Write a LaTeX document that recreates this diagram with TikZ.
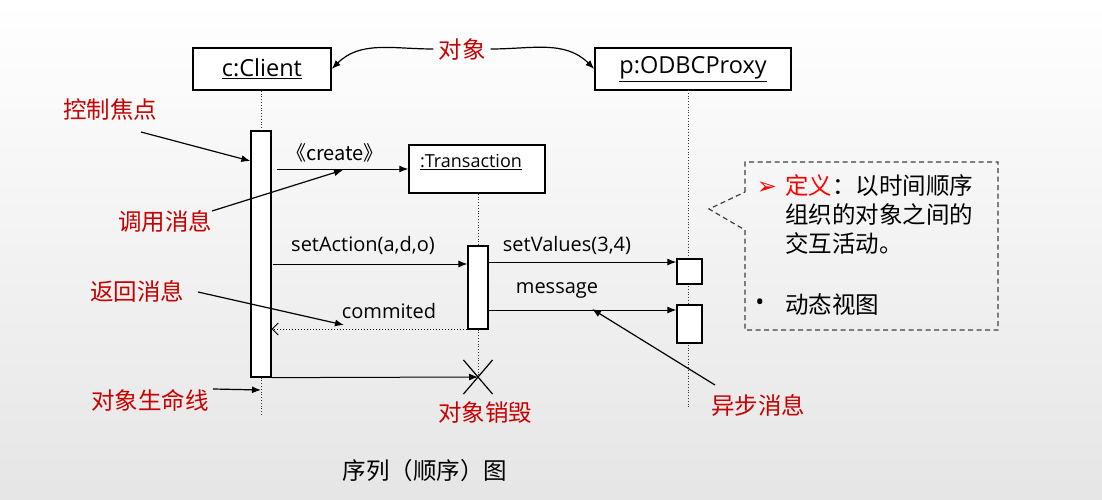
\documentclass[tikz,border=0pt]{standalone}
\usepackage{fontspec}
\setmainfont{Open Sans}
\newfontfamily\cjk{Noto Sans CJK SC}
\newfontfamily\dejavu{DejaVu Sans}
\usetikzlibrary{arrows.meta,shapes.misc}
\definecolor{annred}{RGB}{200,0,0}
\definecolor{defred}{RGB}{255,0,0}
\definecolor{cbox}{RGB}{64,64,64}
\begin{document}
\begin{tikzpicture}[x=1pt,y=-1pt,
  objbox/.style={draw=black,line width=1.5pt,fill=white,inner sep=0pt,font=\fontsize{23.5}{27}\selectfont},
  actbox/.style={draw=black,line width=1.3pt,fill=white,inner sep=0pt},
  life/.style={draw=black!80,line width=0.8pt,dotted},
  msg/.style={draw=black,line width=1pt,-{Latex[length=9pt,width=7pt]}},
  retmsg/.style={draw=black,line width=1pt,dotted,-{Straight Barb[length=6pt,width=12pt,line width=0.9pt]}},
  ann/.style={draw=black,line width=1.2pt,-{Latex[length=9pt,width=7pt]}},
  msglbl/.style={inner sep=1pt,font=\fontsize{20}{23}\selectfont},
  annlbl/.style={inner sep=1pt,text=annred,font=\cjk\fontsize{23.5}{27}\selectfont},
  cjktext/.style={inner sep=0pt,font=\cjk\fontsize{23.5}{29}\selectfont}
]
\shade[top color=white,bottom color=black!10] (0,0) rectangle (1102,500);
\useasboundingbox (0,0) rectangle (1102,500);

% objects
\node[objbox,minimum width=138pt,minimum height=42pt] (client) at (262,69) {\underline{c:Client}};
\node[objbox,minimum width=196pt,minimum height=42pt] (proxy) at (693,69) {\underline{p:ODBCProxy}};
\node[draw=black,line width=1.5pt,fill=white,inner sep=0pt,minimum width=136pt,minimum height=48pt] (tx) at (477,169) {};
\node[inner sep=0pt,font=\fontsize{18}{21}\selectfont] (txlbl) at (471,162) {\underline{:Transaction}};

% lifelines
\coordinate (clientend) at (261,415);
\coordinate (proxytop) at (688,90);
\coordinate (proxyend) at (688,408);
\draw[life] (proxytop) -- (proxyend);
\node[actbox,minimum width=20pt,minimum height=246pt] (clientact) at (261,254) {};
\node[actbox,minimum width=20pt,minimum height=83pt] (txact) at (478,287.5) {};
\node[actbox,minimum width=25pt,minimum height=25pt] (pact1) at (689.5,271.5) {};
\node[actbox,minimum width=25pt,minimum height=38pt] (pact2) at (689.5,324) {};
\node[draw=black,line width=1.2pt,cross out,inner sep=0pt,minimum width=28pt,minimum height=33pt] (xdel) at (478,377) {};
\draw[life] (client.south -| clientact.north) -- (clientact.north);
\draw[life] (clientact.south) -- (clientend);
\draw[life] (tx.south -| txact.north) -- (txact.north);
\draw[life] (txact.south) -- (xdel.center);

% messages
\draw[msg] ([xshift=5pt]clientact.east |- tx.west) -- (tx.west);
\node[msglbl] (createlbl) at (335,153) {\cjk{《}create\cjk{》}};
\draw[msg] ([xshift=1pt]clientact.east |- 0,264) -- (txact.west |- 0,264);
\node[msglbl] (setactlbl) at (363,245) {setAction(a,d,o)};
\draw[msg] (txact.east |- 0,262) -- (pact1.west |- 0,262);
\node[msglbl] (setvallbl) at (567,245) {setValues(3,4)};
\draw[msg] (txact.east |- 0,310) -- (pact2.west |- 0,310);
\node[msglbl] (msglbl) at (557,290) {message};
\draw[retmsg] (txact.west |- 0,329) -- (clientact.east |- 0,329);
\node[msglbl] (comlbl) at (389,311) {commited};
\draw[msg] (clientact.south east) -- (xdel.center);

% object label with curved arrows
\node[annlbl] (objlbl) at (462,50) {对象};
\draw[ann] (objlbl.west) ++(-4,-1) to[out=180,in=45] (client.east);
\draw[ann] (objlbl.east) ++(4,-1) to[out=0,in=135] (proxy.west);

% annotations
\node[annlbl] (focuslbl) at (110,110) {控制焦点};
\coordinate (focuss) at (141,132);
\draw[ann] (focuss) -- (clientact.west |- 0,161);

\node[annlbl] (calllbl) at (165,222) {调用消息};
\coordinate (calls) at (212,211);
\coordinate (callend) at (343,170);
\draw[ann] (calls) -- (callend);

\node[annlbl] (retlbl) at (137,291) {返回消息};
\coordinate (rets) at (198,292);
\coordinate (retend) at (344,325);
\draw[ann] (rets) -- (retend);

\node[annlbl] (lifelbl) at (150,400) {对象生命线};
\coordinate (lifes) at (213,389);
\draw[ann] (lifes) -- (clientact.south |- 0,390);

\node[annlbl] (dellbl) at (485,413) {对象销毁};

\node[annlbl] (asynclbl) at (758,405) {异步消息};
\coordinate (asyncs) at (715,385);
\coordinate (asyncend) at (592,309);
\draw[ann] (asyncs) -- (asyncend);

% callout
\draw[cbox,line width=1.2pt,dash pattern=on 5pt off 3.5pt] (745,192) -- (745,162) -- (998,162) -- (998,330) -- (745,330) -- (745,230) -- (709,209) -- cycle;
\node[inner sep=0pt,text=defred,font=\dejavu\fontsize{24}{26}\selectfont] (bul1) at (767,188) {➢};
\node[cjktext,anchor=north west,align=left] (deftext) at (785,174) {{\color{defred}定义}：以时间顺序\\组织的对象之间的\\交互活动。};
\node[inner sep=0pt,font=\fontsize{24}{26}\selectfont] (bul2) at (760,305) {•};
\node[cjktext,anchor=west] (dyntext) at (785,305) {动态视图};

% caption
\node[cjktext] (caption) at (425,471) {序列（顺序）图};
\end{tikzpicture}
\end{document}
